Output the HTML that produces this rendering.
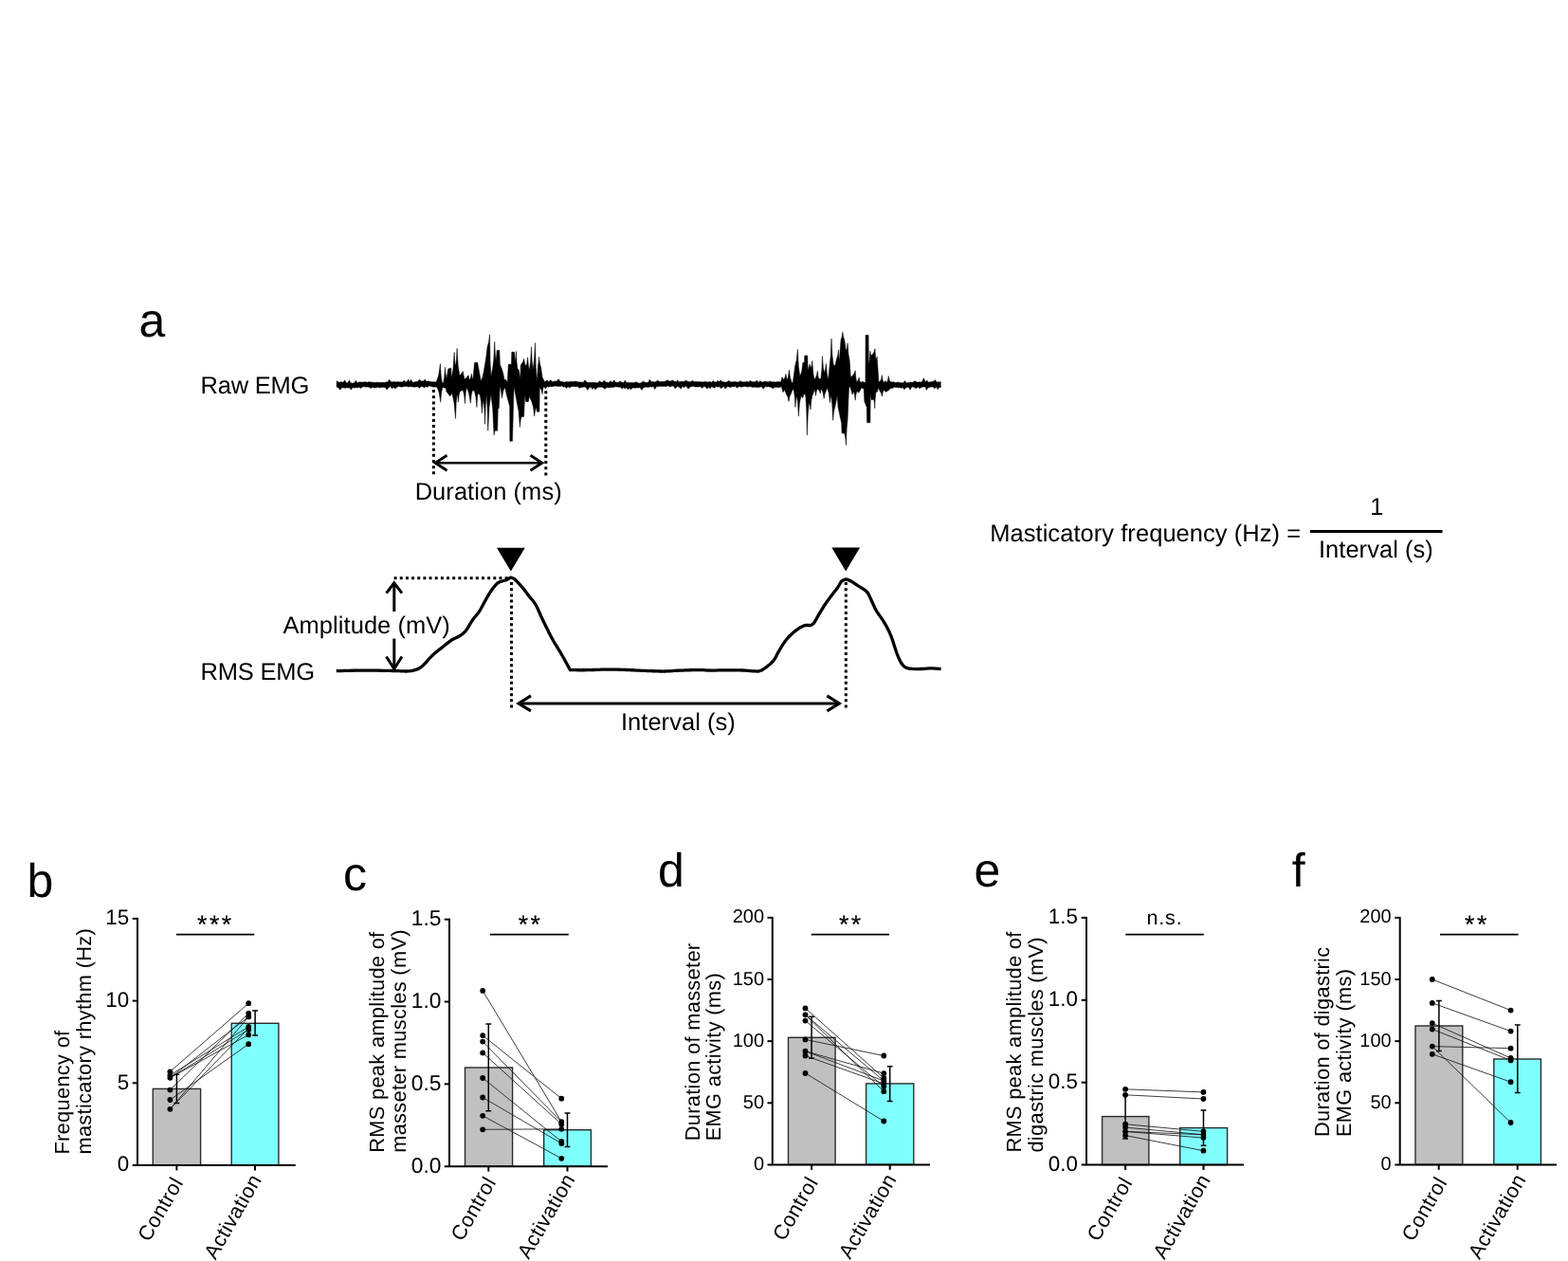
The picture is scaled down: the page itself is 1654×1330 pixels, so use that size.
<!DOCTYPE html>
<html lang="en"><head><meta charset="utf-8"><title>Figure: masticatory EMG analysis</title>
<style>
html,body{margin:0;padding:0;background:#fff;}
body{width:1654px;height:1330px;overflow:hidden;}
svg{display:block;}
text{font-family:"Liberation Sans", sans-serif;fill:#000;text-rendering:geometricPrecision;}
.pl{font-size:50px;}
.ta{font-size:25.5px;letter-spacing:0.05px;}
.ts{font-size:26.6px;letter-spacing:2.5px;stroke:#000;stroke-width:0.2px;}
.tn{font-size:21.5px;letter-spacing:0.85px;}
.tx{font-size:21.8px;letter-spacing:0.42px;}
.tk{}
.tc{font-size:21.8px;letter-spacing:0.32px;}
</style></head><body>
<svg width="1654" height="1330" viewBox="0 0 1654 1330" role="img" aria-label="Figure with panels a to f">
<rect width="1654" height="1330" fill="#fff"/>
<g id="panel-a">
<text class="pl" x="146.6" y="354.6">a</text>
<text class="ta" style="letter-spacing:-0.23px" x="211.6" y="414.9">Raw EMG</text>
<path d="M355.1,403.4 355.2,401.81 356.99,403.1 358.56,403.18 360.11,402.5 361.53,403.54 363.63,401 365.35,403.84 366.84,403.65 368.51,401.07 369.83,403.75 371.81,404.13 373.87,403.74 375.25,401.34 376.79,403.65 378.89,402.96 380.55,403.02 382.23,403.11 383.65,403.02 385.72,402.78 387.29,403.27 389.21,402.75 391.14,403 392.97,403.18 394.84,403.61 396.75,403.23 398.81,403.26 400.12,403.4 401.96,403.56 403.77,403.35 405.59,403.39 407.17,403.09 409.02,402.73 410.73,400.43 412.78,402.91 414.64,402.68 416.07,402.62 417.91,402.89 419.83,402.6 421.15,402.97 422.97,402.83 424.77,403.04 426.25,401.1 427.7,402.99 429.03,402.79 430.82,400.18 432.12,402.92 433.64,400.37 435.24,403.3 437.03,403.07 438.6,402.48 440.56,402.43 442.37,400.22 444.12,401.85 446.2,402.13 448.21,400.19 450,402.54 451.81,401.87 453.45,402.53 455.53,402.66 457.56,402.72 459.65,403.03 460.53,402.11 462.79,395.47 464.42,383.68 465.22,396.15 466.32,403.16 467.58,404.21 468.68,398.15 469.47,387.37 470.14,394.78 471.05,398.95 472.84,388.95 475.79,388.21 476.32,398.95 477.96,389.09 479.16,371.58 479.73,381.01 480.53,386.32 481.44,379.49 482.11,367.37 483.21,385.56 484.74,395.79 486.32,394.74 488.21,391.58 490,400 491.58,398.95 494,395.79 495.26,401.05 496.48,398.59 497.37,394.21 498.03,397.92 498.95,400 500.53,382.63 503.68,382.32 507.37,402.11 508.95,397.89 510.53,390.53 512.63,377.89 514.21,365.26 515.55,360.72 516.53,352.63 517.1,380.93 517.89,396.84 519.47,389.47 520.82,379.05 521.79,360.53 522.36,373.66 523.16,381.05 524.21,369.47 526.84,369.47 527.37,384.21 529.47,389.47 530.74,393.68 532.11,401.05 533.16,400 535.26,403.16 536.32,384.21 539.47,384.21 539.79,371.37 542.63,371.37 543.68,382.11 544.17,377.94 544.53,370.53 545.06,381.98 545.79,388.42 547.37,390.53 548.95,398.95 549.26,385.26 550.53,383.16 551.75,381.45 552.63,378.42 553.52,383.47 554.74,386.32 555.84,382.91 556.63,376.84 557.38,385.6 558.42,390.53 559.64,381.62 560.53,365.79 561.19,380.95 562.11,389.47 563.51,379.43 564.53,361.58 565.28,387.52 566.32,402.11 567.68,384.21 568.23,381.37 568.63,376.32 569.43,383.39 570.53,387.37 572.11,397.89 574.74,402.95 575.54,402.27 577.07,400.66 578.72,402.96 580.65,400.68 582.17,402.14 584.09,402.63 585.51,401.86 587.3,402.21 589.08,399.7 590.62,402.06 592.19,402.48 593.86,402.65 595.64,403.18 597.3,402.37 599.04,403.09 600.68,402.5 602.49,402.5 604.09,402.53 605.55,402.57 606.9,402.05 608.55,402.58 610.58,402.99 612.32,402.9 613.74,403.02 615.1,403.44 617.03,401.01 619.11,402.98 620.97,403.81 622.45,403.15 624.32,403.46 626.35,403.34 627.98,403.47 629.32,403.64 630.68,403.8 632.57,401.72 634.12,403.35 635.81,402.99 637.16,401.21 638.86,402.95 640.61,403.23 642.35,403.57 644.06,401.69 645.95,403.48 647.82,400.82 649.2,403.23 650.97,403.15 652.66,403.23 653.98,401.92 656.04,403.22 657.52,403.74 659.35,401.28 660.93,403.65 662.5,403.35 664.11,403.87 665.93,403.38 667.91,403.75 669.67,403.59 671.05,402.76 673.06,403.89 674.96,404.24 676.98,403.47 678.65,402.11 680.25,403.35 682.25,403.45 683.78,403.37 685.26,400.32 686.86,402.49 688.71,402.6 690.76,402.96 692.3,402.36 693.73,401.03 695.09,402.47 697.17,402.41 698.84,402.41 700.72,402.44 702.56,401.66 704.2,400.88 706.12,402.11 707.46,402.02 709.18,400.97 711.19,402.21 713.24,402.75 714.58,400.99 716.21,402.71 717.55,402.85 718.99,402.32 720.72,402.57 722.11,402.07 723.88,401.23 725.62,402.43 727.37,402.69 729.25,402.24 730.91,401.38 732.46,402.94 734.38,402.25 735.78,402.89 737.15,402.56 738.65,402.87 739.99,402.73 741.58,402.97 743.14,402.52 745.15,402.8 746.91,403.06 748.74,402.58 750.6,403.17 752.2,401.63 753.71,402.72 755.24,403.21 756.99,401.51 758.57,402.39 760.63,400.96 762.22,402.9 763.53,402.68 765.41,403.2 766.85,402.72 768.9,401.44 770.93,403 772.58,402.86 774.63,402.57 776.41,402.87 778.04,403.12 779.37,402.81 781.37,401.63 782.84,403.06 784.42,402.7 786,402.97 787.98,402.2 789.6,402.96 791.29,401.58 793.16,402.54 794.62,402.74 796.47,402.8 798.41,401.33 800.18,403.62 801.79,401.57 803.39,402.95 805.26,402.78 807.21,402.31 809.05,402.8 810.64,402.87 812.35,401.89 813.94,402.92 815.85,402.72 817.89,403.04 819.25,402.63 821.31,402.55 823.58,402.88 825.03,397.8 826.6,400.46 828,398.28 829.02,394.41 829.63,398.28 830.47,400.46 831.59,396.76 832.41,390.18 833.52,398.31 835.07,402.88 836.28,404.09 838.69,385.95 840.24,379.64 841.35,368.42 842.37,386.6 843.77,396.83 845.71,392 846.92,382.32 848.61,382.32 848.73,375.07 851.75,375.07 852.24,390.79 854.17,384.14 855.38,388.37 856.22,385.54 856.83,380.51 857.75,393.28 859.01,400.46 860.46,398.04 861.51,395.65 862.27,391.39 862.93,396.81 863.85,399.85 865.9,399.25 866.81,390.76 867.47,375.67 868.34,386.89 869.53,393.2 870.58,389.72 871.34,383.53 872.36,394.37 873.76,400.46 875.21,384.74 876.26,374.73 877.03,356.93 877.94,374.73 879.2,384.74 880.77,385.95 882.47,378.69 883.59,375.21 884.4,369.02 884.81,375.99 885.37,379.9 887.06,358.14 888.11,355.31 888.88,350.28 889.64,355.31 890.69,358.14 892.5,370.23 893.41,367.18 894.07,361.77 894.94,373.37 896.13,379.9 897.34,398.04 899.76,395.62 901.16,393.88 902.18,390.79 902.84,398.52 903.75,402.88 905.15,401.14 906.17,398.04 906.78,401.52 907.62,403.48 910.04,402.27 911.85,403.48 912.94,402.88 913.06,353.54 916.08,353.54 916.32,384.74 917.24,379.52 917.9,370.23 918.4,373.33 919.11,375.07 920.31,373.86 921.86,371.68 922.97,367.81 923.48,375.55 924.18,379.9 925.15,376.28 926.96,402.88 928.78,401.67 929.69,399.49 930.35,395.62 931.06,400.65 932.04,403.48 933.98,401.67 935.43,403.48 936.48,401 937.24,396.59 938,400.46 939.06,402.64 939.86,402.69 941.32,402.98 942.82,402.66 944.43,403.65 945.87,403.17 947.9,403.36 949.29,403.38 951.16,403.75 952.63,403.88 954.43,401.65 956.34,403.94 957.69,403.51 959.69,403.18 961.33,403.22 962.88,403.36 964.95,401.84 966.7,402.87 968.15,403.22 969.96,402.78 971.31,402.97 972.5,403.12 974.32,398.74 976.29,403.15 977.67,400.98 979.09,403.15 980.47,402.88 982.43,402.64 984.47,402.29 986.54,400.63 988,402.96 989.67,402.8 991.04,403.14 992.3,402.6 992.3,409 990.89,408.32 989.05,410.86 987.75,407.79 985.98,409.95 984.05,408.07 982.5,407.94 980.72,408.59 979.03,408.87 977.44,411.27 975.77,407.88 974.25,408.11 972.5,408.36 971.95,408.47 969.97,409.7 968.09,407.85 966.74,409.64 964.81,408.64 962.92,408.01 961.57,408.2 960.02,411.32 958.69,408.42 956.76,408.6 955.43,409 953.91,410.86 952.48,408.75 950.93,409.19 949.23,408.75 947.74,408.93 946.41,408.51 944.62,408.53 943.11,408.22 941.07,409.92 940.27,408.92 937.85,411.34 934.22,413.52 932.41,411.34 931.21,413.74 930.35,417.99 929.44,414.51 928.17,412.55 926.36,408.92 925.51,413.16 923.94,413.76 923.24,419.85 922.73,430.69 922.38,424.89 921.89,421.62 919.11,421.62 918.26,414.97 917.9,445.8 914.63,445.8 914.27,429.48 911.85,423.43 911.25,410.13 908.83,408.92 905.8,414.37 903.99,412.55 902.94,416.03 902.18,422.22 901.41,416.03 900.36,412.55 899.15,416.18 896.74,407.71 895.53,408.92 894.07,442.78 893.16,452.36 892.5,469.38 891.74,461.49 890.69,457.05 888.03,457.05 887.67,446.41 884.04,429.48 883.19,417.39 881.02,428.27 879.61,433.71 878.6,443.39 877.84,426.75 876.78,417.39 876.08,420 875.57,424.64 874.3,414.58 872.55,408.92 871.34,412.55 870.08,415.38 869.17,420.41 868.05,413.83 866.51,410.13 865.8,411.87 865.3,414.97 864.03,411.87 862.27,410.13 861.22,412.74 860.46,417.39 859.95,413.52 859.25,411.34 856.83,417.39 855.78,422.61 855.02,431.9 854.36,427.26 853.45,424.64 852.25,437.05 851.39,459.11 850.73,432.41 849.82,417.39 848.37,414.97 846.55,419.81 844.98,417.39 843.44,425.22 842.32,439.15 841.56,425.22 840.51,417.39 839.6,421.74 838.94,429.48 838.33,418.65 837.48,412.55 836.28,410.13 834.46,414.97 833.06,418.02 832.04,423.43 831.03,418.79 829.63,416.18 827.57,411.34 826,413.76 824.18,407.47 823.27,408.36 821.87,408.43 820.25,408.48 818.33,408.39 816.94,408.19 815.38,409.99 813.59,408.52 811.88,408.1 810.45,407.72 808.62,408.11 807.26,407.5 805.23,410.25 803.35,407.84 801.57,408.23 800.03,408.5 798.62,408.38 796.83,408.31 795.08,408.24 793.5,408.42 791.99,407.77 790.64,407.87 788.79,408.1 787.41,407.94 785.95,407.58 783.89,407.83 782.36,408.19 780.98,408.05 779.14,407.67 777.49,409.35 775.81,407.27 774,407.99 772.63,407.66 770.79,408.43 768.81,408.12 766.92,407.74 765.15,410.22 763.79,407.78 762.31,408.24 760.65,409.7 758.87,407.87 756.93,408.18 755.14,407.62 753.84,409.34 752.28,408.55 750.54,407.72 749.15,409.95 747.62,407.88 746.03,410.31 744.06,407.76 742.15,408.02 740.65,409.31 738.77,407.82 736.95,407.97 734.91,407.97 733.07,407.93 731.15,407.36 729.53,407.72 728.05,408 726.04,410.37 724.15,407.42 722.85,407.12 721.48,409 720.13,407.17 718.04,410.19 716.05,407.85 714.09,407.72 712.17,409.9 710.49,407.3 708.82,406.94 706.91,408.28 704.94,406.81 703.09,407.46 701.31,407.52 699.77,407.38 697.87,407.6 696.57,407.27 694.75,407.74 692.79,407.46 690.8,410.56 689.12,407.52 687.15,408.33 685.85,407.85 683.91,408.44 682.21,408.2 680.37,408.37 678.54,408.93 676.99,411.48 675.08,408.64 673,409 671.6,408.9 670.07,409.35 668.38,409.06 666.81,409.14 665.41,411.12 663.91,408.8 662.53,410.91 660.73,408.56 659.36,409.9 657.98,408.8 656.12,409.95 654.22,408.2 652.32,408.24 650.56,408.02 648.89,407.72 647.48,408.53 645.92,408.51 644.31,408.55 642.84,408.98 641.1,408.48 639.37,408.96 638,410.48 636.62,408.96 634.57,408.27 633.04,408.25 631.56,408.32 629.85,408.89 627.92,411.06 626.57,408.58 624.94,410.57 623.38,408.19 621.5,408.69 619.89,411.43 617.92,408.2 616.35,408.12 614.28,408.46 612.77,408.51 611.19,409.41 609.22,407.61 607.39,407.9 605.66,407.38 604.24,407.7 602.58,407.85 600.89,409 599.09,407.78 597.73,409.55 595.67,407.71 594.25,408.14 592.54,407.1 591,407.57 589.6,407.36 588.25,407.67 586.43,407.05 585.05,407.14 583.66,407.38 581.87,407.95 580.48,407.43 578.48,408.28 577.15,407.54 575.4,410.23 573.96,407.77 573.16,408.42 572.55,411.07 572.11,415.79 570.91,411.07 569.26,408.42 568.95,434.21 566.32,434.21 565.79,429.47 564.57,432.88 563.68,438.95 562.58,429.52 561.05,424.21 558.42,417.89 557.37,423.68 554.74,423.68 553.68,415.79 552.63,439.47 550,439.47 549.08,443.45 548.42,450.53 547.09,433.68 545.26,424.21 542.11,407.37 540.53,465.26 537.89,465.26 537.68,428.42 534.74,417.89 532.63,408.42 530.8,412.59 529.47,420 528.59,411.92 527.37,407.37 526.32,430.53 525.26,431.58 524.74,454.21 522.11,454.21 521.49,455.92 521.05,458.95 519.73,431.33 517.89,415.79 516.06,429.62 514.74,454.21 514.07,429.62 513.16,415.79 512.24,427.16 511.58,447.37 510.92,431.2 510,422.11 509.08,427.03 508.42,435.79 507.54,423.66 506.32,416.84 504.21,414.74 503.48,420.04 502.95,429.47 501.93,418.69 500.53,412.63 498.42,411.58 497.2,416.51 496.32,425.26 494.55,414.48 492.11,408.42 491.19,414.67 490.53,425.79 489.64,416.69 488.42,411.58 485.26,412.63 484.16,416.8 483.37,424.21 482.84,418.82 482.11,415.79 481.19,425.07 480.53,441.58 478.98,424.4 476.84,414.74 474.74,417.89 470.74,412.63 470.53,409.47 466.84,408.42 465.62,414.11 464.74,424.21 463.19,414.11 461.05,408.42 460.14,408.02 458.34,408.22 456.38,408.07 454.45,407.4 452.38,407.1 450.8,408.58 449.34,407.47 447.64,409.04 445.9,407.81 444.29,407.48 442.4,409.3 440.97,407.96 438.91,407.91 437.18,408.27 435.36,407.89 434.04,407.98 432.71,407.65 430.78,408 429.14,407.52 427.28,407.57 425.39,407.63 423.64,408.21 421.87,407.71 420.27,407.56 418.9,408.15 416.82,410 415.22,408.3 413.71,409.86 411.66,407.86 410.25,408.29 408.18,410.96 406.17,408.62 404.81,408.57 403.41,408.61 401.74,408.65 400.27,409.08 398.63,408.28 396.61,409.05 395.01,408.9 393.01,408.54 391.1,409.49 389.28,408.37 387.63,408.04 386.29,408.25 384.23,407.73 382.55,408.07 380.47,409.61 378.86,408.25 377.55,408.93 376.25,408.77 374.87,408.99 373.14,409.02 371.76,408.79 370.4,411.16 369.06,409.23 367.49,409 365.56,408.95 364.03,409.35 362.14,408.92 360.75,408.68 358.87,411.14 356.8,408.84 355.2,408.28 355.1,408Z" fill="#000" stroke="#000" stroke-width="0.5" stroke-linejoin="miter"/>
<g stroke="#000" stroke-width="3" stroke-dasharray="3 3.16" fill="none">
<line x1="457.4" y1="411.1" x2="457.4" y2="500.4"/>
<line x1="575.8" y1="412.2" x2="575.8" y2="501.4"/>
<line x1="415.6" y1="609.7" x2="539" y2="609.7"/>
<line x1="539.5" y1="614.1" x2="539.5" y2="746.6"/>
<line x1="892.3" y1="614.1" x2="892.3" y2="746.6"/>
</g>
<g stroke="#000" stroke-width="3" fill="none" stroke-linecap="butt" stroke-linejoin="miter">
<path d="M460,488.2 H571" stroke-width="2.5"/>
<path d="M471.5,480.2 L459.2,488.2 L471.5,496.2" stroke-width="2.9"/>
<path d="M559.5,480.2 L571.8,488.2 L559.5,496.2" stroke-width="2.9"/>
<path d="M415.8,616 V645"/>
<path d="M407.6,625.6 L415.8,614.8 L424,625.6"/>
<path d="M415.8,673.5 V705"/>
<path d="M407.5,692.5 L415.8,705.5 L424,692.5"/>
<path d="M548,741.9 H884.5"/>
<path d="M560,733.9 L547,741.9 L560,749.9"/>
<path d="M872.4,733.9 L885.4,741.9 L872.4,749.9"/>
</g>
<text class="ta" x="515.2" y="526.9" text-anchor="middle">Duration (ms)</text>
<text class="ta" x="298.5" y="667.8">Amplitude (mV)</text>
<text class="ta" style="letter-spacing:-0.23px" x="211.6" y="717.4">RMS EMG</text>
<text class="ta" x="715.4" y="770.1" text-anchor="middle">Interval (s)</text>
<path d="M354.8,707.72 356.33,707.68 358.24,707.62 360.49,707.55 363.02,707.47 365.77,707.38 368.7,707.3 371.75,707.23 374.87,707.17 378.01,707.12 381.11,707.1 383.57,707.1 386.22,707.11 389.01,707.13 391.9,707.15 394.86,707.19 397.84,707.22 400.81,707.26 403.72,707.31 406.53,707.35 409.22,707.4 411.72,707.44 414.02,707.48 416.05,707.51 420.31,707.64 423.49,707.81 425.97,707.95 428.16,708.01 430.44,707.92 433.4,707.6 436.09,707.1 438.54,706.45 440.72,705.66 442.93,704.56 444.68,703.2 446.89,701.14 448.68,699.33 450.7,697.11 452.86,694.72 455.04,692.36 457.16,690.25 459.24,688.41 461.32,686.72 463.4,685.11 465.45,683.56 467.44,682.02 469.87,680.07 472.26,678.13 474.55,676.34 476.69,674.83 479.24,673.48 481.56,672.53 483.88,671.34 486.28,669.79 488.68,667.99 491.08,665.58 492.52,663.64 493.96,661.36 495.4,658.92 496.83,656.49 498.27,654.28 500.12,651.82 502,649.52 503.81,647.29 505.47,645.03 506.87,642.75 508.1,640.49 509.3,638.19 510.61,635.78 512.08,633.15 513.63,630.37 515.21,627.62 516.77,625.09 518.36,622.74 519.98,620.5 521.54,618.5 522.94,616.87 524.93,614.94 527.05,613.78 530.62,612.73 534.24,611.73 536.72,610.17 538.77,609.05 542.47,610.49 544.01,611.95 545.91,613.91 547.97,616.13 549.97,618.36 551.72,620.36 553.45,622.51 554.93,624.51 556.34,626.49 557.88,628.58 559.61,630.68 561.42,632.76 563.25,635.06 565.08,637.83 566.24,639.98 567.36,642.32 568.48,644.83 569.64,647.5 570.89,650.31 572.27,653.25 573.28,655.33 574.37,657.57 575.51,659.91 576.68,662.31 577.88,664.74 579.08,667.14 580.27,669.48 581.44,671.72 582.55,673.8 583.92,676.26 585.25,678.52 586.56,680.66 587.86,682.74 589.16,684.81 590.46,686.95 591.8,689.22 593.24,691.76 594.81,694.57 596.42,697.48 597.97,700.32 599.39,702.91 600.58,705.09 601.46,706.69 603.02,706.7 605.12,706.71 607.61,706.72 610.38,706.74 613.29,706.74 616.21,706.73 619.02,706.7 621.44,706.65 623.94,706.57 626.5,706.48 629.09,706.39 631.7,706.3 634.29,706.21 636.84,706.15 639.33,706.12 642.1,706.11 644.83,706.12 647.52,706.15 650.19,706.2 652.85,706.26 655.51,706.33 658.2,706.41 660.93,706.5 663.71,706.62 666.51,706.76 669.28,706.89 671.99,707.03 674.59,707.16 677.06,707.28 680.31,707.42 683.38,707.55 686.29,707.67 689.01,707.77 691.57,707.86 694.28,707.95 696.55,708.02 698.88,708.05 701.72,708 704,707.91 706.45,707.78 709.07,707.61 711.83,707.44 714.71,707.27 717.68,707.13 720.07,707.04 722.66,706.94 725.37,706.84 728.11,706.75 730.83,706.67 733.43,706.61 735.85,706.57 738,706.55 741.44,706.64 744.16,706.82 746.7,707.02 749.61,707.13 752.25,707.12 754.99,707.06 757.86,706.97 760.89,706.89 764.11,706.84 766.63,706.83 769.36,706.83 772.2,706.84 775.07,706.85 777.88,706.88 780.55,706.93 782.98,706.99 786.05,707.14 788.9,707.37 791.51,707.6 793.89,707.78 796.04,707.86 799.73,708.07 803.29,706.99 805.09,705.91 807.17,704.49 809.39,702.82 811.59,701.03 813.62,699.21 815.33,697.47 817.23,694.98 818.63,692.45 819.89,689.83 821.39,687.1 822.82,684.73 824.33,682.21 825.91,679.67 827.53,677.22 829.17,674.99 831.31,672.5 833.55,670.22 835.75,668.16 837.81,666.35 840.31,664.35 842.62,662.77 844.73,661.5 847.43,660.15 849.92,659.43 852.64,659.51 855.11,659.6 858.22,657.7 859.4,655.9 860.75,653.53 862.22,650.87 863.75,648.19 865.02,646.06 866.34,643.83 867.71,641.55 869.15,639.25 870.67,636.95 872.36,634.56 874.21,632.06 876.09,629.59 877.84,627.31 879.32,625.36 881.75,622.22 883.64,619.66 885.1,617.25 886.56,614.71 887.96,612.74 891.77,611.01 893.88,611.25 896.61,612.39 898.5,613.48 900.69,614.89 903,616.44 905.25,617.93 907.54,619.35 909.9,620.78 912.1,622.22 913.9,623.63 915.74,625.84 917.36,629.17 918.29,631.11 919.34,633.45 920.49,636.05 921.71,638.76 922.98,641.41 924.27,643.87 925.64,646.12 927.09,648.29 928.6,650.41 930.1,652.51 931.56,654.64 932.92,656.84 934.16,658.99 935.32,661.06 936.43,663.16 937.53,665.39 938.65,667.85 939.84,670.67 940.67,672.85 941.53,675.32 942.4,677.97 943.28,680.73 944.17,683.51 945.06,686.23 945.93,688.8 946.79,691.14 947.62,693.15 949.31,696.79 950.86,699.61 952.52,701.8 954.54,703.52 956.9,704.69 959.51,705.25 962.44,705.47 965.78,705.6 968.4,705.63 971.38,705.52 974.53,705.34 977.66,705.14 980.57,704.97 983.07,704.91 987.17,705.06 990.4,705.37 992.58,705.6" fill="none" stroke="#000" stroke-width="3.3" stroke-linejoin="round" stroke-linecap="butt"/>
<path d="M524,577.8 H553.8 L538.9,602.5 Z" fill="#000"/>
<path d="M877.3,577.6 H907.1 L892.2,602.4 Z" fill="#000"/>
<text class="ta" x="1044.2" y="570.5">Masticatory frequency (Hz) =</text>
<line x1="1381.9" y1="560.4" x2="1521.5" y2="560.4" stroke="#000" stroke-width="3"/>
<text class="ta" x="1452.3" y="543.0" text-anchor="middle">1</text>
<text class="ta" x="1451.4" y="588.3" text-anchor="middle">Interval (s)</text>
</g>
<g id="panel-b">
<text class="pl" x="28.6" y="946.1">b</text>
<rect x="161.3" y="1148.4" width="50.3" height="80.6" fill="#c0c0c0" stroke="#2b2b2b" stroke-width="1.4"/>
<rect x="244.2" y="1079.3" width="49.7" height="149.7" fill="#80ffff" stroke="#2b2b2b" stroke-width="1.4"/>
<g stroke="#1a1a1a" stroke-width="0.85" fill="none">
<line x1="179.4" y1="1130.3" x2="262.2" y2="1058.2"/>
<line x1="179.4" y1="1136.8" x2="262.2" y2="1072.4"/>
<line x1="179.4" y1="1134" x2="262.2" y2="1083"/>
<line x1="179.4" y1="1136.8" x2="262.2" y2="1086"/>
<line x1="179.4" y1="1136.8" x2="262.2" y2="1091.4"/>
<line x1="179.4" y1="1149.6" x2="262.2" y2="1068.8"/>
<line x1="179.4" y1="1160" x2="262.2" y2="1101.2"/>
<line x1="179.4" y1="1169.8" x2="262.2" y2="1072.4"/>
<line x1="179.4" y1="1169.8" x2="262.2" y2="1084.5"/>
</g>
<g stroke="#000" stroke-width="1.5" fill="none">
<path d="M186.4,1133.2 V1163.4 M183.5,1133.2 H189.3 M183.5,1163.4 H189.3"/>
<path d="M269.1,1066 V1092.1 M266.2,1066 H272 M266.2,1092.1 H272"/>
</g>
<g fill="#000">
<circle cx="179.4" cy="1130.3" r="2.9"/>
<circle cx="179.4" cy="1134" r="2.9"/>
<circle cx="179.4" cy="1136.8" r="2.9"/>
<circle cx="179.4" cy="1149.6" r="2.9"/>
<circle cx="179.4" cy="1160" r="2.9"/>
<circle cx="179.4" cy="1169.8" r="2.9"/>
<circle cx="262.2" cy="1058.2" r="2.9"/>
<circle cx="262.2" cy="1068.8" r="2.9"/>
<circle cx="262.2" cy="1072.4" r="2.9"/>
<circle cx="262.2" cy="1083" r="2.9"/>
<circle cx="262.2" cy="1086" r="2.9"/>
<circle cx="262.2" cy="1091.4" r="2.9"/>
<circle cx="262.2" cy="1101.2" r="2.9"/>
</g>
<g stroke="#000" stroke-width="2" fill="none">
<path d="M145,967.9 V1229.7"/>
<path d="M139.7,1229 H311.7"/>
<path d="M139.7,1142.3 H145"/>
<path d="M139.7,1055.6 H145"/>
<path d="M139.7,968.9 H145"/>
<path d="M186.4,1229 V1234.4"/>
<path d="M269,1229 V1234.4"/>
</g>
<text class="tk" font-size="22.4" x="136.19" y="1235.41" text-anchor="end">0</text>
<text class="tk" font-size="22.4" x="136.19" y="1148.71" text-anchor="end">5</text>
<text class="tk" font-size="22.4" x="136.19" y="1062.01" text-anchor="end">10</text>
<text class="tk" font-size="22.4" x="136.19" y="975.31" text-anchor="end">15</text>
<text class="tx" transform="translate(193.9,1247.3) rotate(-60)" text-anchor="end">Control</text>
<text class="tx" transform="translate(276.5,1244) rotate(-60)" text-anchor="end">Activation</text>
<text class="tc" transform="translate(72.9,1217.6) rotate(-90)">Frequency of</text>
<text class="tc" transform="translate(95.9,1217.6) rotate(-90)">masticatory rhythm (Hz)</text>
<line x1="186" y1="985.7" x2="268.3" y2="985.7" stroke="#000" stroke-width="1.7"/>
<text class="ts" x="227.4" y="983.9" text-anchor="middle">***</text>
</g>
<g id="panel-c">
<text class="pl" x="361.9" y="939.1">c</text>
<rect x="490.5" y="1126" width="50.1" height="104.2" fill="#c0c0c0" stroke="#2b2b2b" stroke-width="1.4"/>
<rect x="573.7" y="1191.7" width="49.7" height="38.5" fill="#80ffff" stroke="#2b2b2b" stroke-width="1.4"/>
<g stroke="#1a1a1a" stroke-width="0.85" fill="none">
<line x1="509.2" y1="1044.9" x2="592.3" y2="1183.2"/>
<line x1="509.2" y1="1092.1" x2="592.3" y2="1158.7"/>
<line x1="509.2" y1="1098.6" x2="592.3" y2="1183.2"/>
<line x1="509.2" y1="1110.4" x2="592.3" y2="1185.7"/>
<line x1="509.2" y1="1137" x2="592.3" y2="1204"/>
<line x1="509.2" y1="1157.5" x2="592.3" y2="1206"/>
<line x1="509.2" y1="1176.8" x2="592.3" y2="1221.8"/>
<line x1="509.2" y1="1191.3" x2="592.3" y2="1190.8"/>
</g>
<g stroke="#000" stroke-width="1.5" fill="none">
<path d="M515.3,1079.9 V1171.7 M512.4,1079.9 H518.2 M512.4,1171.7 H518.2"/>
<path d="M598.5,1173.9 V1209.4 M595.6,1173.9 H601.4 M595.6,1209.4 H601.4"/>
</g>
<g fill="#000">
<circle cx="509.2" cy="1044.9" r="2.9"/>
<circle cx="509.2" cy="1092.1" r="2.9"/>
<circle cx="509.2" cy="1098.6" r="2.9"/>
<circle cx="509.2" cy="1110.4" r="2.9"/>
<circle cx="509.2" cy="1137" r="2.9"/>
<circle cx="509.2" cy="1157.5" r="2.9"/>
<circle cx="509.2" cy="1176.8" r="2.9"/>
<circle cx="509.2" cy="1191.3" r="2.9"/>
<circle cx="592.3" cy="1158.7" r="2.9"/>
<circle cx="592.3" cy="1183.2" r="2.9"/>
<circle cx="592.3" cy="1185.7" r="2.9"/>
<circle cx="592.3" cy="1190.8" r="2.9"/>
<circle cx="592.3" cy="1204" r="2.9"/>
<circle cx="592.3" cy="1206" r="2.9"/>
<circle cx="592.3" cy="1221.8" r="2.9"/>
</g>
<g stroke="#000" stroke-width="2" fill="none">
<path d="M474,968.7 V1230.9"/>
<path d="M468.7,1230.2 H641"/>
<path d="M468.7,1143.37 H474"/>
<path d="M468.7,1056.53 H474"/>
<path d="M468.7,969.7 H474"/>
<path d="M515.3,1230.2 V1235.6"/>
<path d="M598.5,1230.2 V1235.6"/>
</g>
<text class="tk" font-size="22.8" x="465.51" y="1236.74" text-anchor="end">0.0</text>
<text class="tk" font-size="22.8" x="465.51" y="1149.91" text-anchor="end">0.5</text>
<text class="tk" font-size="22.8" x="465.51" y="1063.08" text-anchor="end">1.0</text>
<text class="tk" font-size="22.8" x="465.51" y="976.24" text-anchor="end">1.5</text>
<text class="tx" transform="translate(524,1246.8) rotate(-60)" text-anchor="end">Control</text>
<text class="tx" transform="translate(607.2,1243.5) rotate(-60)" text-anchor="end">Activation</text>
<text class="tc" transform="translate(405.3,1215.8) rotate(-90)">RMS peak amplitude of</text>
<text class="tc" transform="translate(428.4,1215.8) rotate(-90)">masseter muscles (mV)</text>
<line x1="517" y1="985.7" x2="599.8" y2="985.7" stroke="#000" stroke-width="1.7"/>
<text class="ts" x="559.5" y="983.9" text-anchor="middle">**</text>
</g>
<g id="panel-d">
<text class="pl" x="693.9" y="935.3">d</text>
<rect x="831.5" y="1094.3" width="49.6" height="134.1" fill="#c0c0c0" stroke="#2b2b2b" stroke-width="1.4"/>
<rect x="913.6" y="1142.9" width="50.2" height="85.5" fill="#80ffff" stroke="#2b2b2b" stroke-width="1.4"/>
<g stroke="#1a1a1a" stroke-width="0.85" fill="none">
<line x1="849.5" y1="1063.4" x2="932.3" y2="1137"/>
<line x1="849.5" y1="1070.3" x2="932.3" y2="1140"/>
<line x1="849.5" y1="1070.3" x2="932.3" y2="1151.2"/>
<line x1="849.5" y1="1076.6" x2="932.3" y2="1146"/>
<line x1="849.5" y1="1096.4" x2="932.3" y2="1113.5"/>
<line x1="849.5" y1="1108.7" x2="932.3" y2="1132.1"/>
<line x1="849.5" y1="1108.7" x2="932.3" y2="1140"/>
<line x1="849.5" y1="1113.5" x2="932.3" y2="1143"/>
<line x1="849.5" y1="1131.9" x2="932.3" y2="1182.5"/>
</g>
<g stroke="#000" stroke-width="1.5" fill="none">
<path d="M856.1,1072.3 V1116.3 M853.2,1072.3 H859 M853.2,1116.3 H859"/>
<path d="M938.7,1124.8 V1161.5 M935.8,1124.8 H941.6 M935.8,1161.5 H941.6"/>
</g>
<g fill="#000">
<circle cx="849.5" cy="1063.4" r="2.9"/>
<circle cx="849.5" cy="1070.3" r="2.9"/>
<circle cx="849.5" cy="1076.6" r="2.9"/>
<circle cx="849.5" cy="1096.4" r="2.9"/>
<circle cx="849.5" cy="1108.7" r="2.9"/>
<circle cx="849.5" cy="1113.5" r="2.9"/>
<circle cx="849.5" cy="1131.9" r="2.9"/>
<circle cx="932.3" cy="1113.5" r="2.9"/>
<circle cx="932.3" cy="1132.1" r="2.9"/>
<circle cx="932.3" cy="1137" r="2.9"/>
<circle cx="932.3" cy="1140" r="2.9"/>
<circle cx="932.3" cy="1143" r="2.9"/>
<circle cx="932.3" cy="1146" r="2.9"/>
<circle cx="932.3" cy="1151.2" r="2.9"/>
<circle cx="932.3" cy="1182.5" r="2.9"/>
</g>
<g stroke="#000" stroke-width="2" fill="none">
<path d="M814.8,966.9 V1229.1"/>
<path d="M809.5,1228.4 H981"/>
<path d="M809.5,1163.28 H814.8"/>
<path d="M809.5,1098.15 H814.8"/>
<path d="M809.5,1033.03 H814.8"/>
<path d="M809.5,967.9 H814.8"/>
<path d="M856.1,1228.4 V1233.8"/>
<path d="M938.7,1228.4 V1233.8"/>
</g>
<text class="tk" font-size="20" x="806.09" y="1233.98" text-anchor="end">0</text>
<text class="tk" font-size="20" x="806.09" y="1168.86" text-anchor="end">50</text>
<text class="tk" font-size="20" x="806.09" y="1103.73" text-anchor="end">100</text>
<text class="tk" font-size="20" x="806.09" y="1038.61" text-anchor="end">150</text>
<text class="tk" font-size="20" x="806.09" y="973.48" text-anchor="end">200</text>
<text class="tx" transform="translate(863.6,1246.7) rotate(-60)" text-anchor="end">Control</text>
<text class="tx" transform="translate(946.2,1243.4) rotate(-60)" text-anchor="end">Activation</text>
<text class="tc" transform="translate(737.9,1203.3) rotate(-90)">Duration of masseter</text>
<text class="tc" transform="translate(760.3,1203.3) rotate(-90)">EMG activity (ms)</text>
<line x1="855.8" y1="985.7" x2="938.1" y2="985.7" stroke="#000" stroke-width="1.7"/>
<text class="ts" x="897.8" y="983.9" text-anchor="middle">**</text>
</g>
<g id="panel-e">
<text class="pl" x="1027.5" y="935.3">e</text>
<rect x="1162.6" y="1177.6" width="49.3" height="51" fill="#c0c0c0" stroke="#2b2b2b" stroke-width="1.4"/>
<rect x="1244.7" y="1189.6" width="49.9" height="39" fill="#80ffff" stroke="#2b2b2b" stroke-width="1.4"/>
<g stroke="#1a1a1a" stroke-width="0.85" fill="none">
<line x1="1187.1" y1="1148.8" x2="1269.5" y2="1151.9"/>
<line x1="1187.1" y1="1154.8" x2="1269.5" y2="1159"/>
<line x1="1187.1" y1="1185.7" x2="1269.5" y2="1193.4"/>
<line x1="1187.1" y1="1189.1" x2="1269.5" y2="1196.8"/>
<line x1="1187.1" y1="1193.4" x2="1269.5" y2="1200.1"/>
<line x1="1187.1" y1="1193.4" x2="1269.5" y2="1196.8"/>
<line x1="1187.1" y1="1197.6" x2="1269.5" y2="1213.7"/>
</g>
<g stroke="#000" stroke-width="1.5" fill="none">
<path d="M1187.1,1154.8 V1201 M1184.2,1154.8 H1190 M1184.2,1201 H1190"/>
<path d="M1269.5,1170.9 V1208.3 M1266.6,1170.9 H1272.4 M1266.6,1208.3 H1272.4"/>
</g>
<g fill="#000">
<circle cx="1187.1" cy="1148.8" r="2.9"/>
<circle cx="1187.1" cy="1154.8" r="2.9"/>
<circle cx="1187.1" cy="1185.7" r="2.9"/>
<circle cx="1187.1" cy="1189.1" r="2.9"/>
<circle cx="1187.1" cy="1193.4" r="2.9"/>
<circle cx="1187.1" cy="1197.6" r="2.9"/>
<circle cx="1269.5" cy="1151.9" r="2.9"/>
<circle cx="1269.5" cy="1159" r="2.9"/>
<circle cx="1269.5" cy="1193.4" r="2.9"/>
<circle cx="1269.5" cy="1196.8" r="2.9"/>
<circle cx="1269.5" cy="1200.1" r="2.9"/>
<circle cx="1269.5" cy="1213.7" r="2.9"/>
</g>
<g stroke="#000" stroke-width="2" fill="none">
<path d="M1146,966.9 V1229.3"/>
<path d="M1140.7,1228.6 H1312"/>
<path d="M1140.7,1141.7 H1146"/>
<path d="M1140.7,1054.8 H1146"/>
<path d="M1140.7,967.9 H1146"/>
<path d="M1187.1,1228.6 V1234"/>
<path d="M1269.5,1228.6 V1234"/>
</g>
<text class="tk" font-size="22.4" x="1136.99" y="1235.01" text-anchor="end">0.0</text>
<text class="tk" font-size="22.4" x="1136.99" y="1148.11" text-anchor="end">0.5</text>
<text class="tk" font-size="22.4" x="1136.99" y="1061.21" text-anchor="end">1.0</text>
<text class="tk" font-size="22.4" x="1136.99" y="974.31" text-anchor="end">1.5</text>
<text class="tx" transform="translate(1195.1,1247.1) rotate(-60)" text-anchor="end">Control</text>
<text class="tx" transform="translate(1277.5,1243.8) rotate(-60)" text-anchor="end">Activation</text>
<text class="tc" transform="translate(1076.6,1215.6) rotate(-90)">RMS peak amplitude of</text>
<text class="tc" transform="translate(1099.5,1215.6) rotate(-90)">digastric muscles (mV)</text>
<line x1="1187.3" y1="985.7" x2="1269.8" y2="985.7" stroke="#000" stroke-width="1.7"/>
<text class="tn" x="1228.5" y="975" text-anchor="middle">n.s.</text>
</g>
<g id="panel-f">
<text class="pl" x="1362.7" y="935.1">f</text>
<rect x="1493" y="1082" width="49.8" height="146.4" fill="#c0c0c0" stroke="#2b2b2b" stroke-width="1.4"/>
<rect x="1575.8" y="1117" width="49.6" height="111.4" fill="#80ffff" stroke="#2b2b2b" stroke-width="1.4"/>
<g stroke="#1a1a1a" stroke-width="0.85" fill="none">
<line x1="1510.8" y1="1033" x2="1593.6" y2="1065.6"/>
<line x1="1510.8" y1="1057.9" x2="1593.6" y2="1087.6"/>
<line x1="1510.8" y1="1079.1" x2="1593.6" y2="1116"/>
<line x1="1510.8" y1="1085.5" x2="1593.6" y2="1118.4"/>
<line x1="1510.8" y1="1103.6" x2="1593.6" y2="1105.7"/>
<line x1="1510.8" y1="1103.6" x2="1593.6" y2="1184"/>
<line x1="1510.8" y1="1111.8" x2="1593.6" y2="1141.2"/>
</g>
<g stroke="#000" stroke-width="1.5" fill="none">
<path d="M1517.9,1055.4 V1108.4 M1515,1055.4 H1520.8 M1515,1108.4 H1520.8"/>
<path d="M1600.8,1081.1 V1152.4 M1597.9,1081.1 H1603.7 M1597.9,1152.4 H1603.7"/>
</g>
<g fill="#000">
<circle cx="1510.8" cy="1033" r="2.9"/>
<circle cx="1510.8" cy="1057.9" r="2.9"/>
<circle cx="1510.8" cy="1079.1" r="2.9"/>
<circle cx="1510.8" cy="1085.5" r="2.9"/>
<circle cx="1510.8" cy="1103.6" r="2.9"/>
<circle cx="1510.8" cy="1111.8" r="2.9"/>
<circle cx="1593.6" cy="1065.6" r="2.9"/>
<circle cx="1593.6" cy="1087.6" r="2.9"/>
<circle cx="1593.6" cy="1105.7" r="2.9"/>
<circle cx="1593.6" cy="1116" r="2.9"/>
<circle cx="1593.6" cy="1118.4" r="2.9"/>
<circle cx="1593.6" cy="1141.2" r="2.9"/>
<circle cx="1593.6" cy="1184" r="2.9"/>
</g>
<g stroke="#000" stroke-width="2" fill="none">
<path d="M1476.7,966.9 V1229.1"/>
<path d="M1471.4,1228.4 H1642"/>
<path d="M1471.4,1163.28 H1476.7"/>
<path d="M1471.4,1098.15 H1476.7"/>
<path d="M1471.4,1033.03 H1476.7"/>
<path d="M1471.4,967.9 H1476.7"/>
<path d="M1517.7,1228.4 V1233.8"/>
<path d="M1600.7,1228.4 V1233.8"/>
</g>
<text class="tk" font-size="20" x="1467.69" y="1233.98" text-anchor="end">0</text>
<text class="tk" font-size="20" x="1467.69" y="1168.86" text-anchor="end">50</text>
<text class="tk" font-size="20" x="1467.69" y="1103.73" text-anchor="end">100</text>
<text class="tk" font-size="20" x="1467.69" y="1038.61" text-anchor="end">150</text>
<text class="tk" font-size="20" x="1467.69" y="973.48" text-anchor="end">200</text>
<text class="tx" transform="translate(1527.2,1247) rotate(-60)" text-anchor="end">Control</text>
<text class="tx" transform="translate(1610.2,1243.7) rotate(-60)" text-anchor="end">Activation</text>
<text class="tc" transform="translate(1401.6,1199.1) rotate(-90)">Duration of digastric</text>
<text class="tc" transform="translate(1424.7,1199.1) rotate(-90)">EMG activity (ms)</text>
<line x1="1519" y1="985.7" x2="1601.6" y2="985.7" stroke="#000" stroke-width="1.7"/>
<text class="ts" x="1557.9" y="983.9" text-anchor="middle">**</text>
</g>
</svg></body></html>
